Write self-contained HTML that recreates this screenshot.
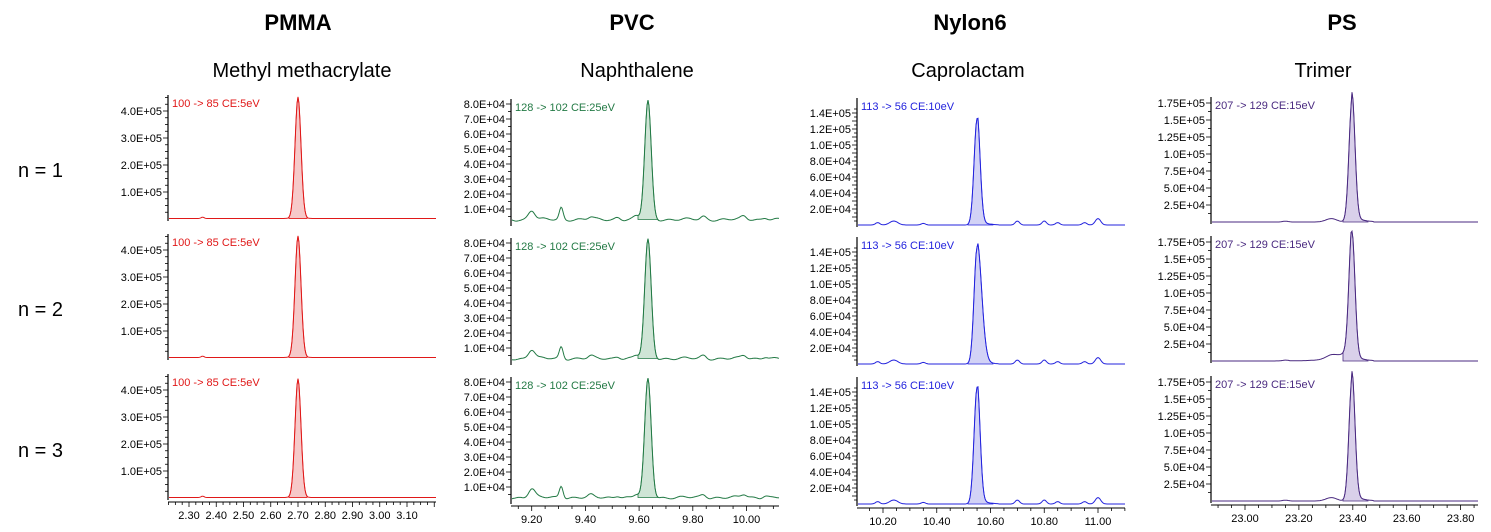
<!DOCTYPE html>
<html><head><meta charset="utf-8"><style>
html,body{margin:0;padding:0;background:#fff;}
svg{display:block;font-family:"Liberation Sans",sans-serif;}
</style></head><body>
<svg id="s" width="1491" height="532" xmlns="http://www.w3.org/2000/svg">
<g font-size="22" font-weight="bold" text-anchor="middle" fill="#000">
<text x="298" y="30">PMMA</text><text x="632" y="30">PVC</text><text x="970" y="30">Nylon6</text><text x="1342" y="30">PS</text>
</g>
<g font-size="20" text-anchor="middle" fill="#000">
<text x="302" y="77">Methyl methacrylate</text><text x="637" y="77">Naphthalene</text><text x="968" y="77">Caprolactam</text><text x="1323" y="77">Trimer</text>
</g>
<g font-size="20" fill="#000">
<text x="18" y="177">n = 1</text><text x="18" y="316">n = 2</text><text x="18" y="457">n = 3</text>
</g>
</svg>
<script>
const s=document.getElementById('s');let h='';
const cols=[
 {ax:168,x1:436,t0:2.30,px0:189,dpx:27.25,dt:0.1,xt:[2.3,2.4,2.5,2.6,2.7,2.8,2.9,3.0,3.1],xsub:4,
  c:'#e01818',f:'#f6c9c9',lab:'100 -> 85 CE:5eV',base:[219,358,498],unit:27,ticks:[1,2,3,4],fmt:v=>v.toFixed(1)+'E+05',sub:4,
  peak:{t:2.70,w:0.011,hgt:[4.5,4.5,4.4]},bl:0.02,bumps:[[2.35,0.05,0.005]]},
 {ax:511,x1:779,px0:531.7,t0:9.2,dpx:53.7,dt:0.2,xt:[9.2,9.4,9.6,9.8,10.0],xsub:4,
  c:'#237a45',f:'#cfe5d6',lab:'128 -> 102 CE:25eV',base:[224,363,502],unit:15,ticks:[1,2,3,4,5,6,7,8],fmt:v=>v.toFixed(1)+'E+04',sub:2,
  peak:{t:9.633,w:0.012,hgt:[7.9,7.9,7.9]},bl:0.3,bumps:[[9.20,0.6,0.012],[9.31,0.8,0.007],[9.42,0.15,0.01],[9.52,0.15,0.01],[9.59,0.2,0.01],[9.84,0.2,0.01],[9.99,0.2,0.01],[10.07,0.15,0.01]]},
 {ax:857,x1:1125,px0:883,t0:10.2,dpx:53.75,dt:0.2,xt:[10.2,10.4,10.6,10.8,11.0],xsub:4,
  c:'#2323dd',f:'#d2d2f6',lab:'113 -> 56 CE:10eV',base:[225,364,504],unit:8,ticks:[2,4,6,8,10,12,14],fmt:v=>(v>=10?(v/10).toFixed(1)+'E+05':v.toFixed(1)+'E+04'),sub:2,
  peak:{t:10.55,w:0.011,hgt:[13.3,14.6,14.6],tail:0.025},bl:0,bumps:[[10.18,0.3,0.008],[10.24,0.5,0.015],[10.35,0.2,0.008],[10.70,0.5,0.008],[10.80,0.5,0.008],[10.85,0.3,0.008],[10.95,0.3,0.008],[11.0,0.8,0.01]]},
 {ax:1211,x1:1478,px0:1245,t0:23.0,dpx:53.9,dt:0.2,xt:[23.0,23.2,23.4,23.6,23.8],xsub:4,
  c:'#4a2a80',f:'#d9d0ea',lab:'207 -> 129 CE:15eV',base:[222,361,501],unit:17,ticks:[1,2,3,4,5,6,7],sub:2,
  peak:{t:23.397,w:0.011,hgt:[7.2,7.2,7.2],tail:0.03},bl:0,bumps:[[23.15,0.05,0.01],[23.32,0.2,0.02]]}
];
const labs4=['2.5E+04','5.0E+04','7.5E+04','1.0E+05','1.25E+05','1.5E+05','1.75E+05'];
cols.forEach((c,ci)=>{
 const tx=t=>c.px0+(t-c.t0)/c.dt*c.dpx;
 const tt=x=>c.t0+(x-c.px0)/c.dpx*c.dt;
 c.base.forEach((b,ri)=>{
  const top=b-(ci==0?124:ci==1?125:ci==2?127:125);
  h+=`<line x1="${c.ax}" y1="${top}" x2="${c.ax}" y2="${b+2}" stroke="#000" stroke-width="1.2"/>`;
  const n=c.ticks[c.ticks.length-1];
  for(let k=1;k<=n*c.sub+(ci==0?2:1);k++){const y=b-k*c.unit/c.sub;if(y<top)break;
   const maj=k%c.sub==0;h+=`<line x1="${c.ax-(maj?5:3)}" y1="${y}" x2="${c.ax}" y2="${y}" stroke="#000" stroke-width="0.8"/>`;}
  c.ticks.forEach((v,i)=>{const y=b-v*c.unit;let l=ci==3?labs4[i]:c.fmt(v);
   h+=`<text x="${c.ax-6}" y="${y+4}" font-size="11" text-anchor="end" fill="#000">${l}</text>`;});
  h+=`<text x="${c.ax+4}" y="${top+12}" font-size="11" fill="${c.c}">${c.lab}</text>`;
  let pts=[],ppts=[];const P=c.peak;const hp=P.hgt[ri];
  for(let x=c.ax+1;x<=c.x1;x+=1){const t=tt(x);let v=c.bl;
   const d=t-P.t;let w=(d>0&&P.tail)?P.w+(ri==1&&ci==2?0.006:0):P.w;
   let pk=hp*Math.exp(-d*d/(2*w*w));
   if(P.tail&&d>0)pk+=hp*0.06*Math.exp(-d/P.tail)*(d<0.08?1:0);
   if(ci==3&&ri==1&&d<0)pk+=0.8*Math.exp(d/0.05);
   v+=pk;
   c.bumps.forEach(([bt,a,bw])=>{const e=t-bt;v+=a*Math.exp(-e*e/(2*bw*bw));});
   if(ci==1)v+=0.06*Math.sin(x*0.35+ri)+0.05*Math.sin(x*0.13);
   const y=b-v*c.unit;pts.push(x+','+y.toFixed(1));
   if(Math.abs(d)<3.2*P.w||(P.tail&&d>0&&d<0.06))ppts.push([x,y]);}
  if(ppts.length){const bl=b-c.bl*c.unit;h+=`<polygon points="${ppts[0][0]},${bl} ${ppts.map(p=>p.join(',')).join(' ')} ${ppts[ppts.length-1][0]},${bl}" fill="${c.f}" stroke="${c.c}" stroke-width="0.8"/>`;}
  h+=`<polyline points="${pts.join(' ')}" fill="none" stroke="${c.c}" stroke-width="1"/>`;
  if(ri==2){const y=b+4;h+=`<line x1="${c.ax}" y1="${y}" x2="${c.x1}" y2="${y}" stroke="#000" stroke-width="1"/>`;
   const step=c.dt/c.xsub;
   for(let k=-10;k<=60;k++){const t=c.t0+k*step;const x=tx(t);if(x<c.ax||x>c.x1)continue;
    const maj=k%c.xsub==0;
    h+=`<line x1="${x}" y1="${y}" x2="${x}" y2="${y+(maj?5:3)}" stroke="#000" stroke-width="0.8"/>`;}
   c.xt.forEach(t=>{h+=`<text x="${tx(t)}" y="${y+17}" font-size="11" text-anchor="middle" fill="#000">${t.toFixed(2)}</text>`;});}
 });
});
s.insertAdjacentHTML('beforeend',h);
</script>
</body></html>
